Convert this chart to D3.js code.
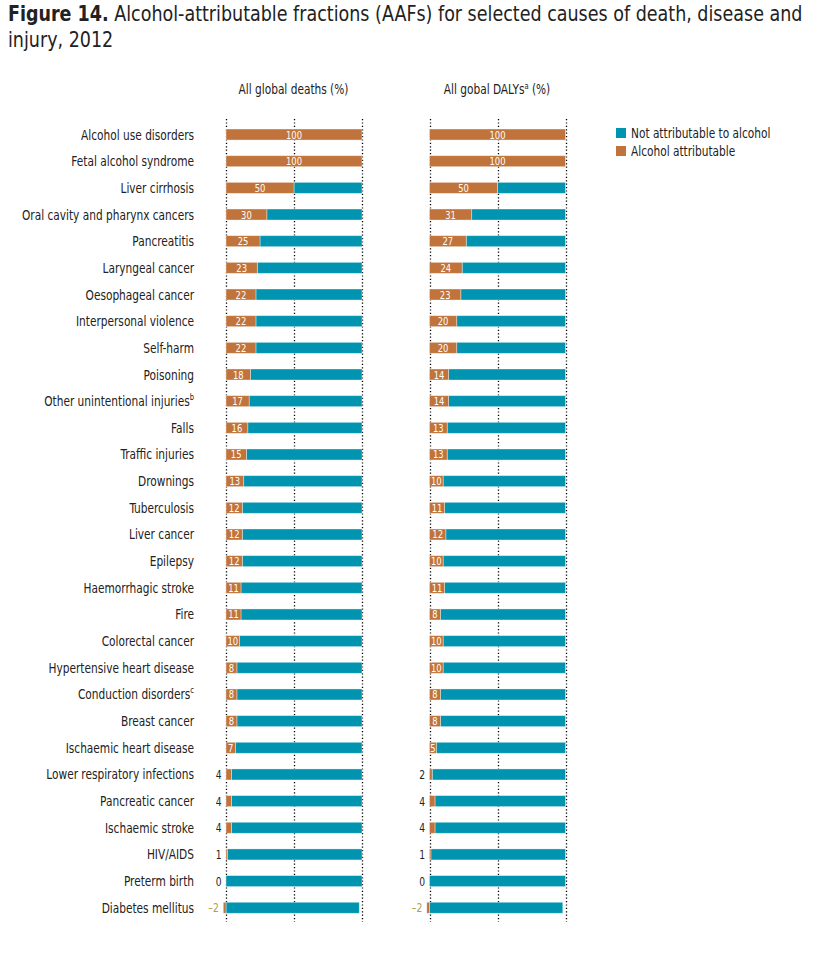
<!DOCTYPE html>
<html><head><meta charset="utf-8">
<script src="https://cdn.jsdelivr.net/npm/d3@7"></script>
<style>
body{margin:0;background:#fff;}
text{font-family:"Liberation Sans Narrow","DejaVu Sans Condensed","Arial Narrow",sans-serif;}
</style></head>
<body><svg id="c" width="835" height="953"></svg>
<script>
const categories = ["Alcohol use disorders","Fetal alcohol syndrome","Liver cirrhosis","Oral cavity and pharynx cancers","Pancreatitis","Laryngeal cancer","Oesophageal cancer","Interpersonal violence","Self-harm","Poisoning","Other unintentional injuries","Falls","Traffic injuries","Drownings","Tuberculosis","Liver cancer","Epilepsy","Haemorrhagic stroke","Fire","Colorectal cancer","Hypertensive heart disease","Conduction disorders","Breast cancer","Ischaemic heart disease","Lower respiratory infections","Pancreatic cancer","Ischaemic stroke","HIV/AIDS","Preterm birth","Diabetes mellitus"];
const superscripts = {"Other unintentional injuries":"b","Conduction disorders":"c"};
const deaths = [100,100,50,30,25,23,22,22,22,18,17,16,15,13,12,12,12,11,11,10,8,8,8,7,4,4,4,1,0,-2];
const dalys  = [100,100,50,31,27,24,23,20,20,14,14,13,13,10,11,12,10,11,8,10,10,8,8,5,2,4,4,1,0,-2];
const gridTicks = [0,50,100];
const legendLabels = ["Not attributable to alcohol","Alcohol attributable"];

const ORANGE="#C0743B", TEAL="#0094B0", INK="#222";
const svg=d3.select("#c");

function place(sel,x,y,sx){ sel.attr("transform",`translate(${x},${y}) scale(${sx},1)`); return sel; }
function width(sel){ return sel.node().getBBox().width; }

// title
const t1=svg.append("text").attr("font-size",22).attr("fill",INK);
t1.append("tspan").attr("font-weight","bold").text("Figure 14.");
t1.append("tspan").text(" Alcohol-attributable fractions (AAFs) for selected causes of death, disease and");
const tsx=795/width(t1);
place(t1,8,21,tsx);
place(svg.append("text").attr("font-size",22).attr("fill",INK).text("injury, 2012"),8,47,tsx);

const y=d3.scaleBand().domain(categories).range([121.2,921.1]);
const barH=11;

// category labels
const probe=svg.append("text").attr("font-size",14).text("Alcohol use disorders");
const lsx=113/width(probe); probe.remove();
categories.forEach(c=>{
  const tx=svg.append("text").attr("text-anchor","end").attr("font-size",14).attr("fill",INK).text(c);
  if(superscripts[c]) tx.append("tspan").attr("font-size",9).attr("dy",-6).text(superscripts[c]);
  place(tx,194,y(c)+y.bandwidth()/2+5,lsx);
});

const panels=[
  {vals:deaths, range:[226,362], title:"All global deaths (%)"},
  {vals:dalys, range:[429.5,565.5], title:"All gobal DALYs", sup:"a"}
];
panels.forEach(p=>{
  const x=d3.scaleLinear().domain([0,100]).range(p.range);
  const h=svg.append("text").attr("text-anchor","middle").attr("font-size",14).attr("fill",INK).text(p.title);
  if(p.sup){h.append("tspan").attr("font-size",9).attr("dy",-5).text(p.sup);h.append("tspan").attr("dy",5).text(" (%)");}
  place(h,(p.range[0]+p.range[1])/2-0.5,94,lsx);
  // grid
  svg.append("g").selectAll("line").data(gridTicks).join("line")
    .attr("x1",d=>Math.round(x(d))+0.5).attr("x2",d=>Math.round(x(d))+0.5)
    .attr("y1",119).attr("y2",922).attr("stroke","#000").attr("stroke-width",1.3)
    .attr("stroke-dasharray","1.2,2.2");
  const g=svg.append("g");
  p.vals.forEach((v,i)=>{
    const c=categories[i], yc=y(c)+y.bandwidth()/2;
    const lo=Math.min(0,v), hi=Math.max(0,v);
    if(100+lo>hi) g.append("rect").attr("x",x(hi)).attr("width",x(100+lo)-x(hi))
      .attr("y",yc-barH/2).attr("height",barH).attr("fill",TEAL)
      .attr("stroke","rgba(255,255,255,0.45)").attr("stroke-width",0.8);
    if(hi>lo) g.append("rect").attr("x",x(lo)).attr("width",x(hi)-x(lo))
      .attr("y",yc-barH/2).attr("height",barH).attr("fill",ORANGE)
      .attr("stroke","rgba(255,255,255,0.45)").attr("stroke-width",0.8);
    if(v>=5){
      place(g.append("text").attr("text-anchor","middle")
        .attr("font-size",11).attr("fill","#fff").text(v),(x(lo)+x(hi))/2,yc+4,0.85);
    } else {
      place(g.append("text").attr("text-anchor","end")
        .attr("font-size",12).attr("fill",v<0?"#b0a040":INK).text(v<0?"\u2013"+Math.abs(v):v),x(lo)-4.5,yc+4.5,0.85);
    }
  });
});

// legend
const lg=svg.append("g");
legendLabels.forEach((l,i)=>{
  lg.append("rect").attr("x",616).attr("y",128+i*18).attr("width",10).attr("height",10)
    .attr("fill",i===0?TEAL:ORANGE);
  place(lg.append("text").attr("font-size",14).attr("fill",INK).text(l),631,138+i*18,lsx);
});
</script></body></html>
